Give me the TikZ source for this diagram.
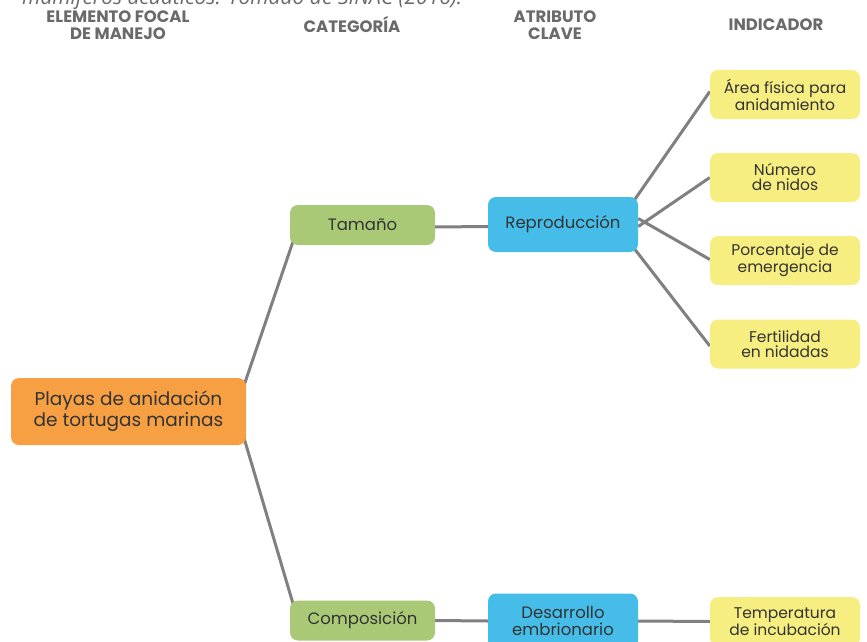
\documentclass[tikz,border=0pt]{standalone}
\usepackage{fontspec}
\setmainfont{Poppins}
\newfontfamily\capfont{Open Sans}
\usetikzlibrary{backgrounds,calc}

\definecolor{focalorange}{HTML}{F7A043}
\definecolor{catgreen}{HTML}{A9C977}
\definecolor{attrblue}{HTML}{45BDE8}
\definecolor{indyellow}{HTML}{F6EE80}
\definecolor{linkgray}{HTML}{808080}
\definecolor{headgray}{HTML}{6A6A6A}
\definecolor{boxtext}{HTML}{333333}

\tikzset{
  box/.style={rounded corners=8pt, inner sep=0pt, align=center, text=boxtext},
  focal/.style={box, fill=focalorange, minimum width=235pt, minimum height=67pt,
    font=\fontsize{18.5}{21}\selectfont},
  category/.style={box, fill=catgreen, minimum width=145pt, minimum height=40pt,
    font=\fontsize{16.5}{17.5}\selectfont},
  attribute/.style={box, fill=attrblue, minimum width=150pt, minimum height=55pt,
    font=\fontsize{16.5}{17.5}\selectfont},
  indicator/.style={box, fill=indyellow, minimum width=150pt, minimum height=49pt,
    font=\fontsize{15.5}{15}\selectfont},
  header/.style={align=center, text=headgray, inner sep=0pt,
    font=\bfseries\fontsize{16.5}{17}\selectfont},
  link/.style={draw=linkgray, line width=3pt},
}

\begin{document}
\begin{tikzpicture}[x=1pt,y=-1pt]
  \clip (0,0) rectangle (867,642);

  % caption running off the top edge
  \node[anchor=base west, inner sep=0pt, text=headgray,
        font=\capfont\itshape\fontsize{21}{24}\selectfont] (cap) at (22,5)
        {mamíferos acuáticos. Tomado de SINAC (2016).};

  % column headers
  \node[header] (h1) at (118,25) {ELEMENTO FOCAL\\DE MANEJO};
  \node[header] (h2) at (352,25) {CATEGORÍA};
  \node[header] (h3) at (555,25) {ATRIBUTO\\CLAVE};
  \node[header] (h4) at (776,25) {INDICADOR};

  % focal element
  \node[focal] (focal) at (128.5,411.5) {Playas de anidación\\de tortugas marinas};

  % categories
  \node[category] (tam) at (362.5,225) {Tamaño};
  \node[category] (comp) at (362.5,620.5) {Composición};

  % key attributes
  \node[attribute] (rep) at (563,224.5) {Reproducción};
  \node[attribute] (des) at (563,621) {Desarrollo\\embrionario};

  % indicators
  \node[indicator] (i1) at (785,94.5) {Área física para\\anidamiento};
  \node[indicator] (i2) at (785,177.5) {Número\\de nidos};
  \node[indicator] (i3) at (785,260.5) {Porcentaje de\\emergencia};
  \node[indicator] (i4) at (785,344) {Fertilidad\\en nidadas};
  \node[indicator] (i5) at (785,621.5) {Temperatura\\de incubación};

  % connectors behind the boxes
  \begin{pgfonlayer}{background}
    \draw[link] ($(focal.north east)+(-3,10)$) -- ($(tam.south west)+(4,-6)$);
    \draw[link] ($(focal.south east)+(-3,-10)$) -- ($(comp.north west)+(4,6)$);
    \draw[link] ([yshift=-2pt]tam.east) -- ([yshift=-2pt]rep.west);
    \draw[link] (comp.east) -- (des.west);
    \draw[link] (des.east) -- (i5.west);
    \draw[link] ($(rep.north east)+(-5,5)$) -- ([yshift=3pt]i1.west);
    \draw[link] ([yshift=-2pt]rep.east) -- (i2.west);
    \draw[link] ([yshift=6pt]rep.east) -- ([yshift=1pt]i3.west);
    \draw[link] ($(rep.south east)+(-5,-5)$) -- ([yshift=-2pt]i4.west);
  \end{pgfonlayer}
\end{tikzpicture}
\end{document}
